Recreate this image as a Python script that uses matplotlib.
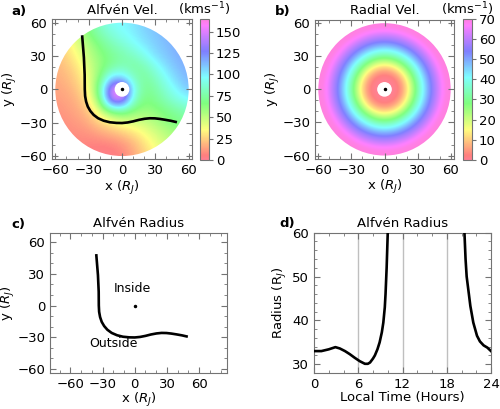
import numpy as np
import matplotlib
matplotlib.use("Agg")
import matplotlib.pyplot as plt
from matplotlib.patches import Circle
from matplotlib.ticker import MultipleLocator

# Alfven velocity (km/s), on a 10 R_J grid
# rows: y = 60 ... -60, columns: x = -60 ... 60
grid_x = np.arange(-60, 61, 10)
grid_y = np.arange(60, -61, -10)
alfven_vel = np.array([
    [30, 40, 55, 70, 85, 95, 98, 102, 108, 112, 115, 118, 120],
    [25, 35, 50, 65, 78, 88, 95, 100, 106, 110, 114, 117, 120],
    [22, 30, 42, 55, 68, 78, 86, 94, 102, 108, 112, 116, 119],
    [20, 26, 36, 50, 62, 70, 76, 82, 92, 104, 110, 115, 118],
    [18, 22, 30, 45, 60, 72, 80, 74, 78, 92, 104, 112, 116],
    [16, 19, 26, 40, 64, 105, 108, 84, 72, 82, 96, 108, 114],
    [14, 16, 22, 36, 75, 150, 165, 98, 70, 75, 88, 100, 110],
    [12, 14, 18, 30, 64, 145, 150, 88, 66, 70, 80, 90, 96],
    [10, 12, 15, 22, 42, 66, 74, 62, 58, 62, 68, 74, 80],
    [8, 10, 12, 16, 25, 32, 40, 44, 48, 54, 62, 68, 72],
    [6, 8, 9, 10, 14, 18, 22, 28, 36, 45, 52, 58, 62],
    [5, 6, 7, 6, 5, 6, 10, 18, 28, 38, 46, 52, 56],
    [5, 5, 5, 4, 3, 3, 6, 14, 24, 34, 42, 48, 52],
])

# radial velocity profile (km/s)
radial_r = [0, 4, 8, 12, 16, 20, 24, 28, 32, 36, 40, 44, 48, 52, 56, 60, 65]
radial_v = [0, 0, 0.5, 2, 6, 12, 20, 28, 36, 43, 50, 56, 61, 66, 69, 70, 70]

# Alfven surface in the equatorial plane (R_J)
surf_x = [-35.8, -34.3, -33.6, -33.5, -33.2, -32.3, -30.8, -28.5, -25.5,
          -21.5, -16.5, -11.0, -5.0, 0.0, 5.0, 10.0, 15.0, 20.2, 25.0,
          29.6, 34.0, 39.0, 44.0, 48.3]
surf_y = [47.5, 28.8, 13.1, 0.0, -6.0, -11.0, -15.5, -19.5, -23.0,
          -26.0, -28.2, -29.6, -30.2, -30.3, -29.8, -28.8, -27.5, -26.5,
          -26.0, -26.1, -26.6, -27.4, -28.3, -29.3]

# Alfven radius vs local time
lt_dawn = [0, 1, 2, 2.9, 3.5, 4.2, 4.85, 5.5, 6.2, 6.9, 7.3, 7.6, 8.0, 8.25,
           8.6, 8.9, 9.2, 9.4, 9.6, 9.7, 9.85, 10.0, 10.1]
ra_dawn = [33, 33, 33.4, 33.9, 33.6, 33, 32.3, 31.5, 30.7, 30.1, 30.1, 30.4,
           31.3, 32, 33.4, 35, 37.3, 39.5, 43, 46, 52, 60, 65]
lt_dusk = [20.3, 20.4, 20.55, 20.7, 21.0, 21.2, 21.6, 22.1, 22.5, 23.0, 23.5, 24]
ra_dusk = [65, 60, 54, 50, 46, 43.3, 39.5, 36.5, 35.2, 34.3, 33.8, 33]

SPINE = "0.45"
CMAP = "gist_rainbow"
FS = 9.5
RJ_LABEL_X = r"x ($R_J$)"
RJ_LABEL_Y = r"y ($R_J$)"


def style_axes(ax, minor_x=10, minor_y=10):
    for s in ax.spines.values():
        s.set_color(SPINE)
    ax.tick_params(which="both", direction="in", top=True, right=True,
                   labelsize=FS, color=SPINE)
    ax.tick_params(which="major", length=4)
    ax.tick_params(which="minor", length=2)
    ax.xaxis.set_minor_locator(MultipleLocator(minor_x))
    ax.yaxis.set_minor_locator(MultipleLocator(minor_y))


def disc_panel(ax, im):
    im.set_clip_path(Circle((0, 0), 60, transform=ax.transData))
    ax.add_patch(Circle((0, 0), 6, color="white", zorder=3))
    ax.plot([0], [0], "k.", ms=3, zorder=4)
    ax.set_xlim(-63, 63)
    ax.set_ylim(-63, 63)
    ax.set_xticks([-60, -30, 0, 30, 60])
    ax.set_yticks([-60, -30, 0, 30, 60])
    style_axes(ax)
    ax.set_xlabel(RJ_LABEL_X, fontsize=FS, labelpad=1)
    ax.set_ylabel(RJ_LABEL_Y, fontsize=FS, labelpad=0)


def add_cbar(fig, im, rect, ticks):
    cax = fig.add_axes(rect)
    cb = fig.colorbar(im, cax=cax, ticks=ticks)
    cb.outline.set_edgecolor(SPINE)
    cax.tick_params(labelsize=FS, length=3, color=SPINE, pad=2)
    cax.set_title(r"(kms$^{-1}$)", fontsize=FS, pad=3, y=1.0)
    return cb


fig = plt.figure(figsize=(5, 4.09), dpi=100)

# a) Alfven velocity
ax_a = fig.add_axes([0.104, 0.609, 0.28, 0.345])
im_a = ax_a.imshow(alfven_vel, extent=(-65, 65, -65, 65), origin="upper",
                   cmap=CMAP, vmin=0, vmax=165, alpha=0.5,
                   interpolation="bicubic")
ax_a.plot(surf_x, surf_y, color="black", lw=1.9, zorder=5)
disc_panel(ax_a, im_a)
ax_a.set_title("Alfvén Vel.", fontsize=FS, pad=4)
add_cbar(fig, im_a, [0.40, 0.609, 0.018, 0.345], [0, 25, 50, 75, 100, 125, 150])

# b) Radial velocity
ax_b = fig.add_axes([0.63, 0.609, 0.278, 0.345])
gx, gy = np.meshgrid(np.linspace(-65, 65, 400), np.linspace(-65, 65, 400))
vr_field = np.interp(np.hypot(gx, gy), radial_r, radial_v)
im_b = ax_b.imshow(vr_field, extent=(-65, 65, -65, 65), origin="lower",
                   cmap=CMAP, vmin=0, vmax=70, alpha=0.5)
disc_panel(ax_b, im_b)
ax_b.set_title("Radial Vel.", fontsize=FS, pad=4)
add_cbar(fig, im_b, [0.926, 0.609, 0.018, 0.345], [0, 10, 20, 30, 40, 50, 60, 70])

# c) Alfven surface
ax_c = fig.add_axes([0.10, 0.088, 0.354, 0.343])
ax_c.plot(surf_x, surf_y, color="black", lw=1.9)
ax_c.plot([0], [0], "k.", ms=3)
ax_c.text(-2, 16, "Inside", ha="center", va="center", fontsize=9)
ax_c.text(-20, -36, "Outside", ha="center", va="center", fontsize=9)
ax_c.set_xlim(-79, 86)
ax_c.set_ylim(-64, 69)
ax_c.set_xticks([-60, -30, 0, 30, 60])
ax_c.set_yticks([-60, -30, 0, 30, 60])
style_axes(ax_c)
ax_c.set_xlabel(RJ_LABEL_X, fontsize=FS, labelpad=0)
ax_c.set_ylabel(RJ_LABEL_Y, fontsize=FS, labelpad=0)
ax_c.set_title("Alfvén Radius", fontsize=FS, pad=4)

# d) Alfven radius vs local time
ax_d = fig.add_axes([0.628, 0.088, 0.354, 0.343])
for h in [6, 12, 18]:
    ax_d.axvline(h, color="0.75", lw=1, zorder=1)
ax_d.plot(lt_dawn, ra_dawn, color="black", lw=1.9, zorder=3)
ax_d.plot(lt_dusk, ra_dusk, color="black", lw=1.9, zorder=3)
ax_d.set_xlim(0, 24)
ax_d.set_ylim(28, 60)
ax_d.set_xticks([0, 6, 12, 18, 24])
ax_d.set_yticks([30, 40, 50, 60])
style_axes(ax_d, minor_x=2, minor_y=2)
ax_d.set_xlabel("Local Time (Hours)", fontsize=FS, labelpad=0)
ax_d.set_ylabel(r"Radius (R$_J$)", fontsize=FS, labelpad=2)
ax_d.set_title("Alfvén Radius", fontsize=FS, pad=4)

# panel letters
for x, y, lab in [(0.022, 0.988, "a)"), (0.55, 0.988, "b)"),
                  (0.022, 0.467, "c)"), (0.558, 0.469, "d)")]:
    fig.text(x, y, lab, fontsize=FS, fontweight="bold", va="top")

fig.savefig("out.png", dpi=100)
